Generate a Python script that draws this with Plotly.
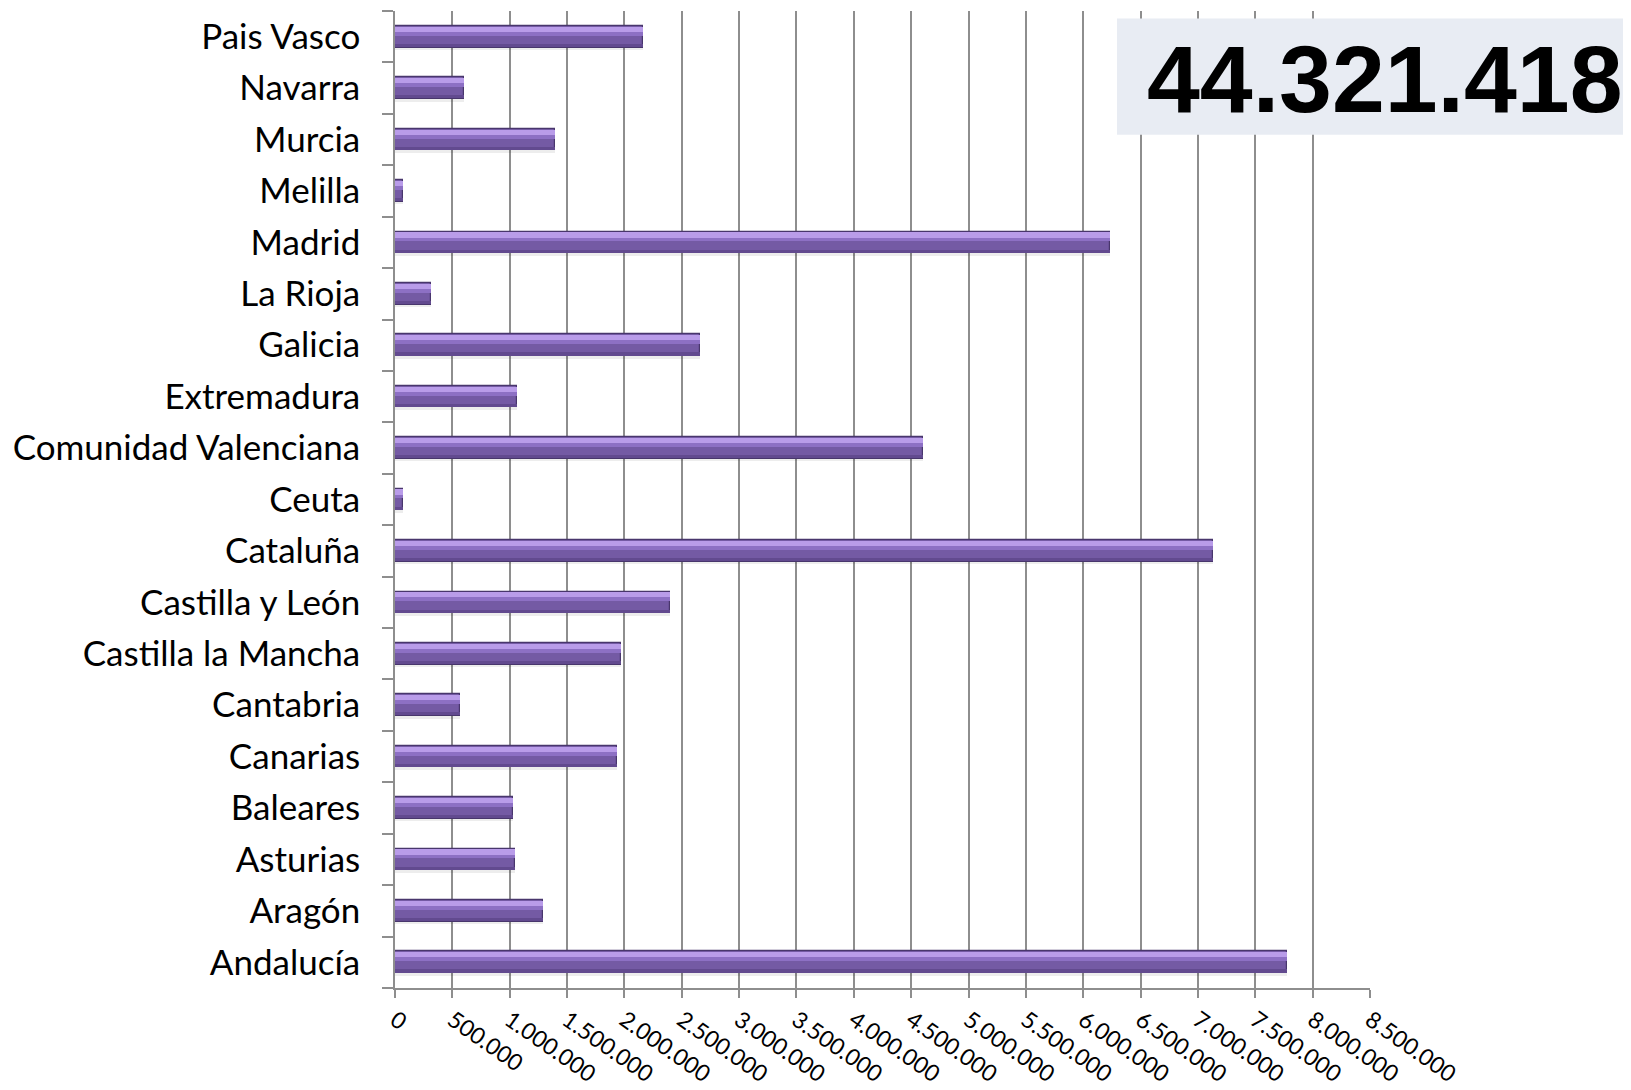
import plotly.graph_objects as go

# Data (bottom to top, as in the chart)
regions = ["Andalucía", "Aragón", "Asturias", "Baleares", "Canarias", "Cantabria",
           "Castilla la Mancha", "Castilla y León", "Cataluña", "Ceuta",
           "Comunidad Valenciana", "Extremadura", "Galicia", "La Rioja", "Madrid",
           "Melilla", "Murcia", "Navarra", "Pais Vasco"]
population = [7780000, 1293000, 1048000, 1030000, 1937000, 567000,
              1974000, 2400000, 7128000, 70000,
              4605000, 1066000, 2663000, 313000, 6230000,
              68000, 1393000, 603000, 2164000]
x_tickvals = [0, 500000, 1000000, 1500000, 2000000, 2500000, 3000000, 3500000, 4000000,
              4500000, 5000000, 5500000, 6000000, 6500000, 7000000, 7500000, 8000000, 8500000]
x_ticktext = ["0", "500.000", "1.000.000", "1.500.000", "2.000.000", "2.500.000",
              "3.000.000", "3.500.000", "4.000.000", "4.500.000", "5.000.000",
              "5.500.000", "6.000.000", "6.500.000", "7.000.000", "7.500.000",
              "8.000.000", "8.500.000"]
total_label = "44.321.418"

# page has an 8px body margin: figure is sized/offset to compensate
W, H = 1623, 1082
L, T = 387, 3
R = W - 1362
B = H - 980
PW = W - L - R
PH = H - T - B

fig = go.Figure()

def add_bar(width, offset, color, line=None, hover=True):
    fig.add_trace(go.Bar(
        y=regions, x=population, orientation="h", width=width, offset=offset,
        marker=dict(color=color, line=line or dict(width=0)),
        hoverinfo=None if hover else "skip", showlegend=False))

# soft shadow under the bars
add_bar(0.05, -0.26, "rgba(0,0,0,0.07)", hover=False)
# main body
add_bar(0.42, -0.21, "#745aa4", dict(color="#48366c", width=1.2))
# darker lower edge
add_bar(0.06, -0.20, "#624a8f", hover=False)
# mid tone below highlight
add_bar(0.08, 0.02, "#8d70c4", hover=False)
# bright lavender highlight
add_bar(0.10, 0.095, "#b99ce9", hover=False)

fig.update_layout(
    width=W, height=H,
    margin=dict(l=L, r=R, t=T, b=B, pad=0),
    paper_bgcolor="white", plot_bgcolor="white",
    barmode="overlay", bargap=0,
    font=dict(family="Lato, sans-serif", color="black"),
    xaxis=dict(range=[0, 8500000], tickvals=x_tickvals, ticktext=x_ticktext,
               tickangle=35, tickfont=dict(size=23, family="Lato, sans-serif", color="black"),
               showgrid=True, gridcolor="#8e8e8e", gridwidth=1.5,
               showline=True, linecolor="#8e8e8e", linewidth=1.5,
               ticks="outside", ticklen=8, tickcolor="#8e8e8e", tickwidth=1.5,
               zeroline=False, fixedrange=True, automargin=False),
    yaxis=dict(type="category", categoryorder="array", categoryarray=regions,
               tickfont=dict(size=35, family="Lato, sans-serif", color="black"),
               showgrid=False, showline=True, linecolor="#8e8e8e", linewidth=1.5,
               ticks="outside", ticklen=11, tickcolor="#8e8e8e", tickwidth=1.5,
               tickson="boundaries", ticklabelstandoff=26, fixedrange=True,
               automargin=False),
)

# total box
fig.add_shape(type="rect", xref="paper", yref="paper",
              x0=(1109 - L) / PW, x1=(W - L) / PW,
              y0=1 - (126.8 - T) / PH, y1=1 - (10.6 - T) / PH,
              fillcolor="#e8ecf3", line=dict(width=0), layer="above")
fig.add_annotation(xref="paper", yref="paper", x=(1376 - L) / PW,
                   y=1 - (71 - T) / PH, text="<b>" + total_label + "</b>", showarrow=False,
                   xanchor="center", yanchor="middle",
                   font=dict(family="Liberation Sans, Arial, sans-serif", size=95, color="black"))

fig.write_html("out.html")
